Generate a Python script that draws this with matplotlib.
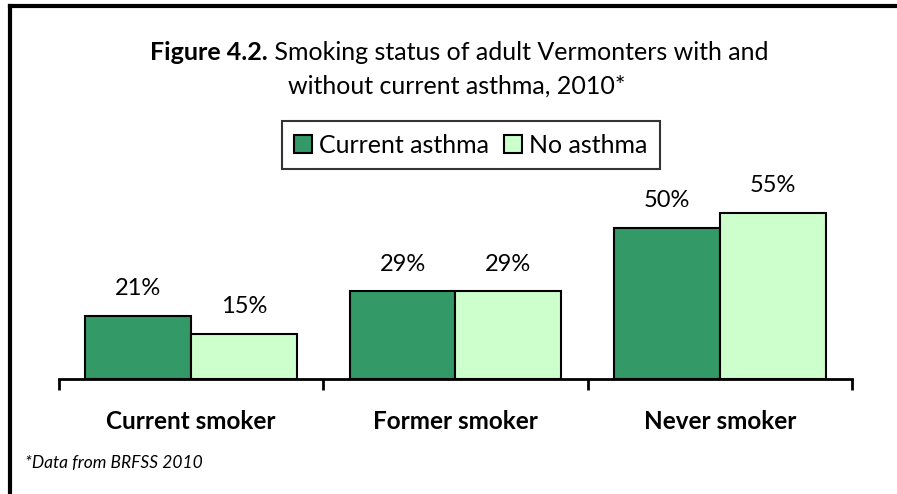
import matplotlib.pyplot as plt
from matplotlib.patches import Patch
import numpy as np

plt.rcParams["font.family"] = ["Lato", "DejaVu Sans"]

categories = ["Current smoker", "Former smoker", "Never smoker"]
series_names = ["Current asthma", "No asthma"]
asthma = [21, 29, 50]
no_asthma = [15, 29, 55]
colors = ["#339966", "#CCFFCC"]

fig = plt.figure(figsize=(8.97, 4.94), dpi=100)
ax = fig.add_axes([0.0658, 0.2328, 0.884, 0.423])

x = np.arange(len(categories))
w = 0.4
b1 = ax.bar(x - w / 2, asthma, w, color=colors[0], edgecolor="black", linewidth=1.5)
b2 = ax.bar(x + w / 2, no_asthma, w, color=colors[1], edgecolor="black", linewidth=1.5)

for bars, vals in ((b1, asthma), (b2, no_asthma)):
    for rect, v in zip(bars, vals):
        ax.text(rect.get_x() + rect.get_width() / 2, v + 5.5, f"{v}%",
                ha="center", va="bottom", fontsize=17)

ax.set_xlim(-0.5, 2.5)
ax.set_ylim(0, 69.2)
for s in ("top", "right", "left"):
    ax.spines[s].set_visible(False)
ax.spines["bottom"].set_linewidth(2)
ax.set_yticks([])
ax.set_xticks([-0.5, 0.5, 1.5, 2.5])
ax.set_xticklabels([])
ax.tick_params(axis="x", length=8, width=2, direction="out")
for i, c in enumerate(categories):
    ax.text(i, -14.2, c, ha="center", va="center", fontsize=17.5, fontweight="bold")

# title: bold prefix + normal text, centred as one line
renderer = fig.canvas.get_renderer()
t1 = fig.text(0, 1 - 53 / 494, "Figure 4.2.", fontsize=18, fontweight="bold", va="center")
t2 = fig.text(0, 1 - 53 / 494, " Smoking status of adult Vermonters with and", fontsize=18, va="center")
w1 = t1.get_window_extent(renderer).width / fig.bbox.width
w2 = t2.get_window_extent(renderer).width / fig.bbox.width
start = 459 / 897 - (w1 + w2) / 2
t1.set_x(start)
t2.set_x(start + w1)
fig.text(457 / 897, 1 - 86 / 494, "without current asthma, 2010*", fontsize=18, ha="center", va="center")

handles = [Patch(facecolor=c, edgecolor="black", linewidth=1.5) for c in colors]
leg = fig.legend(handles, series_names, loc="center", bbox_to_anchor=(471 / 897, 1 - 145.5 / 494),
                 ncol=2, fontsize=18, frameon=True, fancybox=False, handlelength=0.7,
                 handleheight=0.7, handletextpad=0.3, columnspacing=0.6, borderpad=0.5)
leg.get_frame().set_edgecolor("black")
leg.get_frame().set_linewidth(1.5)

fig.text(25 / 897, 1 - 463 / 494, "*Data from BRFSS 2010", fontsize=12.5, style="italic", va="center")

# outer frame (only top and left edges visible in the original)
fig.add_artist(plt.Line2D([10 / 897, 10 / 897], [0, 1 - 6 / 494], color="black", linewidth=3))
fig.add_artist(plt.Line2D([10 / 897, 1], [1 - 6 / 494, 1 - 6 / 494], color="black", linewidth=3))

fig.savefig("out.png", dpi=100)
plt.close(fig)
